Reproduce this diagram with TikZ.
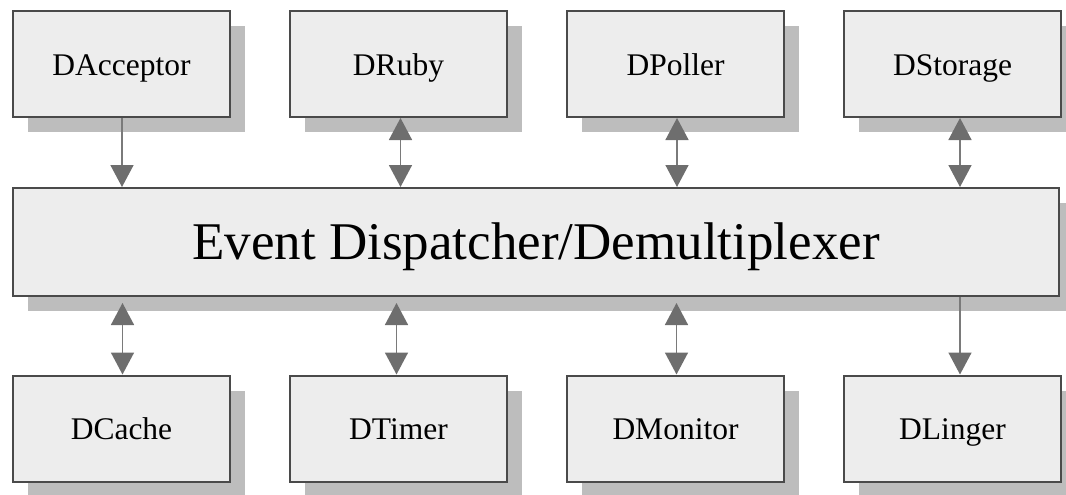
\documentclass[tikz,border=0pt]{standalone}
\usepackage{fontspec}
\setmainfont{Liberation Serif}
\usetikzlibrary{arrows.meta,shadows}
\definecolor{boxfill}{HTML}{EDEDED}
\definecolor{boxline}{HTML}{4A4A4A}
\definecolor{shadowc}{HTML}{BDBDBD}
\definecolor{arrowc}{HTML}{6E6E6E}
\definecolor{arrowline}{HTML}{7A7A7A}
\tikzset{
  comp/.style={rectangle, draw=boxline, fill=boxfill, line width=2pt,
    minimum width=217pt, minimum height=106pt, inner sep=0pt,
    text height=22pt, text depth=0pt,
    font=\fontsize{31.5}{36}\selectfont,
    general shadow={shadow xshift=15pt, shadow yshift=-15pt, fill=shadowc, draw=none}},
  hub/.style={comp, minimum width=1046pt, minimum height=108pt,
    text height=35pt, text depth=0pt,
    font=\fontsize{53}{60}\selectfont},
  link/.style={draw=arrowline, line width=1.6pt,
    -{Triangle[width=23pt,length=22pt,fill=arrowc,color=arrowc]}},
  dlink/.style={draw=arrowline, line width=1.6pt,
    {Triangle[width=23pt,length=22pt,fill=arrowc,color=arrowc]}-{Triangle[width=23pt,length=22pt,fill=arrowc,color=arrowc]}}
}
\begin{document}
\begin{tikzpicture}[x=1pt,y=-1pt]
\useasboundingbox (0,0) rectangle (1066,495);
\node[comp] (acc) at (121.5,64) {DAcceptor};
\node[comp] (ruby) at (398.5,64) {DRuby};
\node[comp] (poll) at (675.5,64) {DPoller};
\node[comp] (stor) at (952.5,64) {DStorage};
\node[hub] (disp) at (536,242) {Event Dispatcher/Demultiplexer};
\node[comp] (cache) at (121.5,428.5) {DCache};
\node[comp] (timer) at (398.5,428.5) {DTimer};
\node[comp] (mon) at (675.5,428.5) {DMonitor};
\node[comp] (ling) at (952.5,428.5) {DLinger};
% top connectors
\draw[link] ([xshift=0.5pt]acc.south) -- ([xshift=0.5pt]acc.south |- disp.north);
\draw[dlink] ([xshift=2pt]ruby.south) -- ([xshift=2pt]ruby.south |- disp.north);
\draw[dlink] ([xshift=1.5pt]poll.south) -- ([xshift=1.5pt]poll.south |- disp.north);
\draw[dlink] ([xshift=7.5pt]stor.south) -- ([xshift=7.5pt]stor.south |- disp.north);
% bottom connectors
\draw[dlink] ([xshift=1pt,yshift=-6pt]cache.north |- disp.south) -- ([xshift=1pt]cache.north);
\draw[dlink] ([xshift=-2pt,yshift=-6pt]timer.north |- disp.south) -- ([xshift=-2pt]timer.north);
\draw[dlink] ([xshift=1pt,yshift=-6pt]mon.north |- disp.south) -- ([xshift=1pt]mon.north);
\draw[link] ([xshift=7.5pt]ling.north |- disp.south) -- ([xshift=7.5pt]ling.north);
\end{tikzpicture}
\end{document}
